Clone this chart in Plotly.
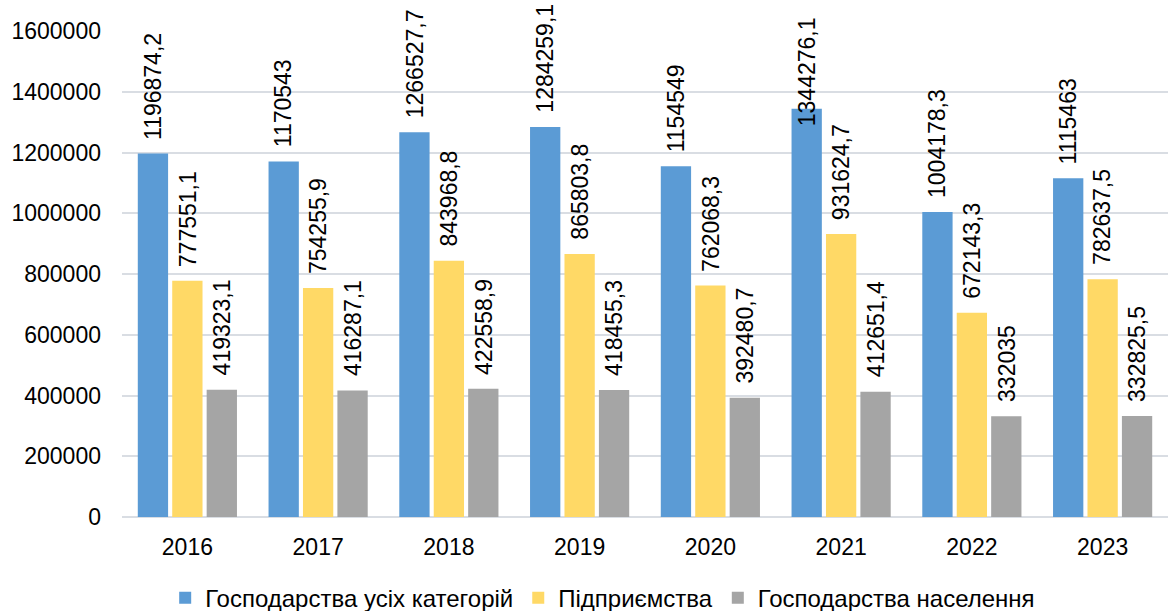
import plotly.graph_objects as go

years = ['2016', '2017', '2018', '2019', '2020', '2021', '2022', '2023']
all_farms = [1196874.2, 1170543, 1266527.7, 1284259.1, 1154549, 1344276.1, 1004178.3, 1115463]
enterprises = [777551.1, 754255.9, 843968.8, 865803.8, 762068.3, 931624.7, 672143.3, 782637.5]
households = [419323.1, 416287.1, 422558.9, 418455.3, 392480.7, 412651.4, 332035, 332825.5]

series = [
    ('Господарства усіх категорій', all_farms, '#5b9bd5'),
    ('Підприємства', enterprises, '#ffd966'),
    ('Господарства населення', households, '#a5a5a5'),
]

FONT = 'Arial, Liberation Sans, sans-serif'
YMAX = 1600000
PLOT_H = 486          # pixel height of the plot area
SLOT = 34.4           # pixel width of one bar slot inside a group


def fmt(v):
    s = ('%.1f' % v).rstrip('0').rstrip('.')
    return s.replace('.', ',')


def text_len(s):
    # rough length of a rotated label at 23px
    return sum(6.4 if c == ',' else 12.8 for c in s)


fig = go.Figure()
annotations = []
for i, (name, vals, color) in enumerate(series):
    fig.add_trace(go.Bar(
        x=years, y=vals, name=name,
        marker=dict(color=color, line=dict(width=0)),
    ))
    # category axis: annotations use the category index
    for j, v in enumerate(vals):
        label = fmt(v)
        ann = dict(x=j, xref='x', xshift=(i - 1) * SLOT, text=label,
                   textangle=-90, showarrow=False,
                   font=dict(family=FONT, size=23, color='#000000'))
        # keep a label inside the chart like Excel does when it would overflow
        if v / YMAX * PLOT_H + 12 + text_len(label) > PLOT_H + 28:
            ann.update(y=1, yref='paper', yanchor='top', yshift=16)
        else:
            ann.update(y=v, yref='y', yanchor='bottom', yshift=12)
        annotations.append(ann)

fig.update_layout(
    width=1168, height=611,
    margin=dict(t=31, l=122, r=0, b=94),
    plot_bgcolor='white',
    paper_bgcolor='white',
    barmode='group',
    bargap=0.21,
    bargroupgap=0.12,
    font=dict(family=FONT, size=23, color='#000000'),
    annotations=annotations,
    xaxis=dict(type='category', showgrid=False, showline=False, ticks='',
               ticklabelstandoff=14, tickfont=dict(size=23), automargin=False),
    yaxis=dict(
        range=[0, YMAX], dtick=200000, tickformat='d',
        showgrid=True, gridcolor='#d9dde3', gridwidth=1.5,
        zeroline=True, zerolinecolor='#d9dde3', zerolinewidth=1.5,
        showline=False, ticks='', ticklabelstandoff=20,
        tickfont=dict(size=23), automargin=False,
    ),
    legend=dict(
        orientation='h', xref='container', x=0.516, xanchor='center',
        yref='container', y=0.021, yanchor='middle',
        font=dict(size=24), itemwidth=30, traceorder='normal',
    ),
    showlegend=True,
)

fig.write_html('out.html', config={'displayModeBar': False},
               post_script="document.body.style.margin='0';")
